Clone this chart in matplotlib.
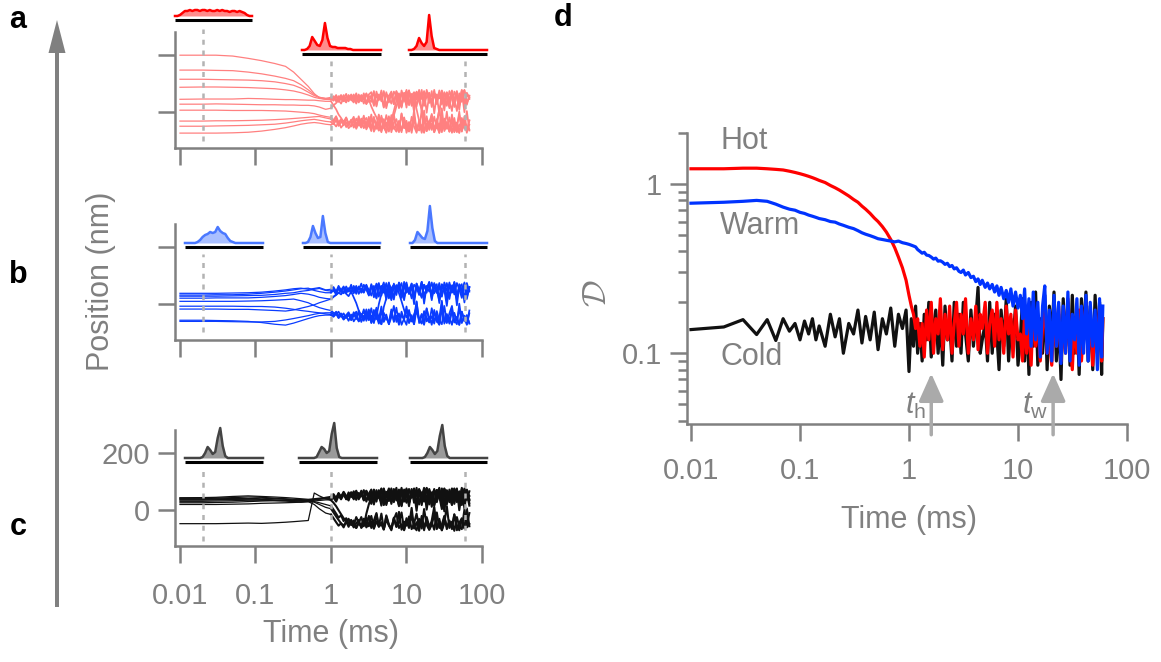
import matplotlib
matplotlib.use('Agg')
import matplotlib.pyplot as plt
from matplotlib.patches import FancyArrow
from matplotlib.ticker import LogLocator, NullFormatter, NullLocator

plt.rcParams['font.family'] = ['Liberation Sans', 'DejaVu Sans']
plt.rcParams['mathtext.fontset'] = 'custom'
plt.rcParams['mathtext.rm'] = 'Liberation Sans'
plt.rcParams['mathtext.it'] = 'Liberation Sans:italic'

W, H = 1161, 662
GRAY = '#808080'

# ---------------- data: trajectories (panels a-c) ----------------
t_traj = [0.01, 0.02, 0.03, 0.05, 0.08, 0.12, 0.18, 0.25, 0.32, 0.4, 0.5, 0.6, 0.7, 0.85,
          1.0, 1.08, 1.17, 1.26, 1.36, 1.47, 1.59, 1.71, 1.85, 2.0,
          2.16, 2.33, 2.52, 2.72, 2.94, 3.17, 3.42, 3.7, 4.0, 4.3,
          4.65, 5.0, 5.4, 5.85, 6.3, 6.8, 7.35, 7.95, 8.6, 9.3,
          10, 10.8, 11.7, 12.6, 13.6, 14.7, 15.9, 17.1, 18.5, 20,
          21.6, 23.3, 25.2, 27.2, 29.4, 31.7, 34.2, 37, 40, 43,
          46.5, 50, 54, 58.5, 63, 68]
n_smooth = 14   # points before the noisy (hopping) part starts

traj_hot = [
    [199, 199, 199, 196, 188, 180, 170, 160, 140, 115, 90, 65, 50, 45,
     44, 52, 38, 56, 42, 60, 36, 54, 46, 62, 34, 58, 40, 66, 30, 57,
     48, 70, 24, 62, 38, 74, 20, 58, 66, 28, 72, 40, 16, 64, 52, 76,
     22, 60, 44, 78, 2, 56, 70, 32, 74, -4, 62, 48, 76, 26, 68, 40,
     4, 72, 54, 8, 76, 36, 64, 46],
    [147, 147, 146, 145, 140, 134, 126, 118, 110, 96, 78, 62, 52, 48,
     48, 40, 56, 36, 58, 44, 34, 60, 42, 54, 30, 62, 38, 50, 28, 44,
     20, 0, -18, -40, -26, -55, -10, -48, -30, 5, 40, 66, 22, 58, 74, 30,
     64, 16, 70, 44, 78, 24, 56, 68, 18, 62, 36, 76, 28, 70, 50, 14,
     66, 40, 74, 22, 60, 78, 32, 56],
    [115, 115, 114, 113, 112, 110, 106, 100, 94, 84, 70, 58, 52, 48,
     52, 46, 60, 40, 56, 48, 64, 38, 58, 44, 66, 36, 60, 50, 32, 62,
     70, 26, 58, 42, 76, 18, 64, 50, 30, 72, 56, 14, 68, 40, 78, 24,
     58, 70, 20, 64, 46, 74, -2, 60, 38, 78, 28, 66, 52, 6, 70, 44,
     76, 24, 62, 34, 72, 0, 68, 50],
    [87, 88, 88, 87, 86, 84, 82, 78, 74, 68, 60, 52, 48, 45,
     45, 56, 40, 50, 60, 38, 54, 44, 62, 40, 52, 34, 58, 46, 66, 36,
     60, 22, 72, 44, 56, 16, 70, 34, 64, 28, 74, 48, 20, 66, 40, 76,
     26, 58, 70, 36, 10, -25, -50, -30, -62, -15, -56, -40, -70, -22, -48, -66,
     -8, -58, -36, -72, -20, -52, -64, -30],
    [45, 46, 46, 46, 48, 47, 45, 44, 44, 43, 42, 42, 40, 38,
     38, 24, 10, -8, -20, -34, -18, -42, -28, -50, -22, -38, -54, -30, -46, -16,
     -56, -26, -44, -64, -12, -50, -36, -68, -20, -58, -42, -70, -6, -54, -30, -66,
     -48, -14, -62, -38, -72, -24, -56, -40, -10, -60, -34, 10, 40, 66, 22, 74,
     48, 18, 70, 36, 78, 28, 62, 52],
    [28, 28, 29, 28, 27, 26, 26, 25, 25, 24, 24, 22, 18, 10,
     14, 24, 32, 42, 30, 50, 38, 58, 44, 34, 60, 40, 54, 30, 64, 46,
     36, 74, 20, 60, 48, 70, 14, 56, 72, 38, 62, 18, 76, 46, 26, 68,
     54, 0, 72, 40, 64, 22, 78, 50, 30, 66, 58, -6, 74, 42, 60, 24,
     70, 48, 4, 66, 36, 76, 26, 58],
    [7, 7, 7, 6, 6, 6, 5, 4, 2, 0, -2, -5, -10, -15,
     -18, -28, -14, -36, -24, -42, -20, -46, -32, -16, -50, -26, -40, -12, -54, -30,
     -60, -20, -46, -8, -66, -34, -52, -14, -70, -38, -24, -62, -4, -56, -44, -68,
     -16, -50, -72, -28, -60, 6, -66, -40, -22, -70, -48, 12, -64, -32, -58, -18,
     -72, -36, -54, 2, -68, -26, -62, -44],
    [-31, -31, -30, -30, -29, -28, -26, -24, -22, -20, -18, -16, -15, -20,
     -24, -34, -18, -40, -28, -46, -22, -38, -50, -26, -44, -14, -52, -32, -20, -48,
     -8, -60, -36, -64, -18, -54, -70, -30, -46, -12, 20, 52, 30, 68, 16, 74,
     40, 60, 10, -30, -58, -20, -66, -40, -6, -62, -48, -72, -16, -56, -34, -68,
     -24, -70, -44, -10, -60, -38, -72, -28],
    [-49, -49, -48, -47, -46, -44, -42, -38, -34, -30, -27, -25, -28, -32,
     -34, -42, -28, -48, -36, -30, -52, -40, -26, -54, -38, -46, -22, -56, -34, -44,
     -66, -16, -58, -40, -70, -24, -50, -62, -10, -54, -68, -30, -64, -20, -72, -46,
     -58, 8, -66, -36, -52, -72, -14, -62, -40, -70, -24, -56, 14, -66, -46, -60,
     -20, -68, -50, -72, -30, -58, 4, -64],
    [-73, -73, -73, -72, -70, -66, -60, -54, -48, -42, -38, -36, -38, -42,
     -44, -38, -50, -34, -54, -42, -36, -56, -46, -30, -58, -40, -52, -28, -60, -44,
     -22, -68, -48, -12, -62, -36, -72, -28, -56, -6, -66, -44, -70, -18, -60, -34,
     -72, -26, -54, -64, 10, -70, -40, -58, -16, -64, -36, -72, -28, -60, 2, -68,
     -50, -20, -70, -42, -66, -14, -56, -62],
]

traj_warm = [
    [38, 38, 38, 39, 40, 42, 46, 50, 54, 56, 52, 55, 58, 50,
     52, 60, 44, 64, 48, 40, 62, 46, 68, 38, 58, 50, 72, 42, 60, 34,
     66, 24, 58, 74, 30, 62, 46, 76, 18, 64, 52, 70, 28, 56, 76, 36,
     62, 0, 72, 48, 22, 68, 40, 76, 26, 60, 70, 4, 66, 44, 74, 30,
     56, 72, -4, 64, 38, 76, 24, 60],
    [32, 32, 33, 33, 35, 38, 42, 46, 50, 54, 56, 48, 44, 40,
     40, 48, 34, 54, 42, 58, 36, 28, 44, 24, 4, -22, -40, -26, -48, -18,
     -52, -30, -44, 0, 36, 60, 28, 70, 44, 16, 66, 52, 74, 24, 58, 38,
     72, 20, 62, 46, 78, 30, 54, 68, 14, 70, 40, 60, 26, 76, 48, 18,
     66, 34, 74, 52, 22, 68, 42, 60],
    [28, 28, 28, 29, 30, 31, 34, 38, 40, 45, 48, 52, 55, 48,
     46, 54, 40, 58, 50, 62, 42, 56, 38, 64, 46, 60, 40, 68, 50, 32,
     70, 44, 22, 66, 54, 76, 34, 60, 14, 72, 46, 62, 28, 78, 40, 56,
     20, 68, 58, 32, 74, 2, 64, 44, 76, 38, 60, 22, 70, 50, -6, 66,
     42, 78, 30, 58, 70, 6, 64, 48],
    [21, 21, 22, 22, 22, 24, 27, 30, 34, 38, 35, 30, 24, 20,
     18, 26, 32, 40, 34, 46, 38, 52, 44, 58, 36, 62, 48, 40, 66, 50,
     30, 64, 20, 70, 44, 58, 16, 72, 52, 26, 66, 38, 10, -20, -46, -28,
     -60, -36, -10, -54, -68, -24, -48, -64, -14, -58, -40, -70, -20, -52, -66, -32,
     -6, -62, -44, -72, -26, -56, -38, -68],
    [10, 10, 10, 10, 11, 12, 14, 16, 18, 12, 5, -5, -12, -18,
     -22, -30, -36, -26, -42, -32, -48, -38, -54, -28, -44, -60, -34, -50, -18, -56,
     -40, -66, -22, -52, -8, -62, -44, -70, -26, -58, -12, -68, -38, -54, -72, -20,
     -60, -46, 10, -66, -34, -70, -16, -52, -64, -28, -58, -72, 6, -62, -40, -68,
     -24, -56, -70, 2, -60, -44, -72, -32],
    [-7, -7, -7, -7, -8, -8, -10, -14, -18, -22, -25, -28, -30, -34,
     -36, -42, -30, -48, -38, -52, -44, -32, -56, -40, -26, -60, -46, -18, -58, -34,
     -64, -20, -52, -40, -70, -10, 20, 50, 30, 66, 44, 74, 22, 58, 70, 36,
     62, 16, 72, 48, 26, 68, 54, 78, 20, 64, 40, 74, 30, 60, 12, 70,
     50, 76, 24, 62, 44, 72, 18, 58],
    [-17, -17, -17, -18, -18, -20, -22, -24, -20, -14, -8, -2, 5, 12,
     18, 26, 34, 40, 46, 38, 52, 44, 58, 42, 64, 36, 54, 48, 68, 30,
     60, 46, 72, 26, 64, 40, 74, 20, 56, 68, 32, 76, 44, 14, 62, 50,
     72, 24, 66, 38, 78, 18, 58, 70, 34, 74, 48, 12, 68, 56, 28, 76,
     40, 62, 16, 70, 52, 26, 74, 44],
    [-56, -56, -57, -58, -60, -64, -70, -73, -66, -58, -50, -44, -40, -38,
     -38, -44, -34, -48, -40, -54, -42, -58, -36, -60, -46, -30, -62, -40, -52, -24,
     -66, -44, -12, -58, -70, -30, -50, -64, -18, -62, -40, -72, -26, -54, -8, -66,
     -48, -70, -20, -58, -36, -72, -14, -60, -42, -68, -24, -56, -70, -6, -62, -46,
     -72, -30, -58, -16, -66, -40, -70, -22],
    [-60, -60, -60, -61, -62, -62, -60, -55, -50, -45, -40, -35, -32, -30,
     -30, -36, -26, -40, -32, -46, -38, -28, -48, -34, -52, -22, -44, -58, -30, -50,
     -14, -60, -42, -68, -24, -54, -36, -70, -46, -6, -62, -32, -72, -50, -18, -64,
     -38, -70, 8, -56, -66, -28, -60, -44, -72, -20, -62, -48, 12, -68, -34, -58,
     -16, -64, -50, -72, -26, -60, -40, -66],
]

traj_cold = [
    [43, 44, 45, 48, 50, 48, 46, 44, 42, 40, 38, 40, 42, 44,
     44, 52, 40, 58, 46, 62, 38, 56, 48, 66, 36, 60, 50, 70, 30, 58,
     72, 24, 62, 44, 76, 18, 64, 52, 30, 70, 56, 14, 66, 40, 76, 26,
     60, 72, 20, 64, 46, 78, 2, 62, 36, 74, 28, 68, 54, -4, 70, 44,
     76, 22, 64, 36, 72, 6, 66, 50],
    [40, 40, 42, 44, 46, 45, 42, 40, 38, 37, 36, 38, 40, 42,
     42, 48, 36, 54, 44, 58, 40, 50, 62, 38, 56, 44, 68, 34, 60, 48,
     26, 70, 42, 60, 16, 74, 50, 32, 66, 46, 78, 20, 62, 38, 72, 28,
     54, 76, 14, 68, 42, 60, 24, 74, 48, 18, 70, 58, 32, 76, 40, 62,
     20, 72, 52, 30, 78, 44, 60, 16],
    [35, 35, 36, 38, 40, 42, 40, 38, 36, 35, 34, 30, 26, 20,
     15, 2, -12, -26, -18, -38, -28, -46, -34, -52, -24, -44, -58, -30, -50, -20,
     -62, -36, -10, -56, -42, -66, -18, -50, -64, -28, -58, -6, -68, -40, -54, -22,
     -66, -46, -12, -60, -34, -70, -24, -56, -42, -68, -8, -62, -50, -20, -66, -36,
     -58, -14, -70, -44, -28, -64, -52, -10],
    [31, 31, 32, 33, 35, 36, 34, 33, 32, 33, 34, 36, 38, 40,
     40, 48, 36, 54, 44, 58, 40, 62, 48, 42, 64, 52, 58, 36, 66, 46,
     68, 30, 58, 48, 74, 20, 62, 40, 76, 32, 60, 18, 70, 50, 26, 74,
     44, 64, -2, 72, 56, 30, 78, 38, 62, 22, 70, 48, 4, 74, 58, 28,
     68, 40, 76, 0, 60, 50, 72, 24],
    [26, 26, 27, 28, 30, 32, 33, 32, 30, 28, 30, 32, 34, 36,
     36, 44, 30, 50, 38, 54, 46, 34, 58, 44, 62, 38, 54, 50, 68, 36,
     60, 20, 70, 44, 28, 66, 52, 76, 22, 62, 40, 72, 16, 58, 70, 34,
     74, 26, 56, 66, 18, 72, 44, 60, 12, 68, 52, 78, 30, 60, 20, 72,
     46, 74, 28, 64, 56, 18, 70, 38],
    [20, 20, 20, 21, 22, 24, 25, 26, 27, 28, 30, 20, 5, -10,
     -15, -28, -42, -54, -46, -60, -40, -30, -52, -36, -62, -44, -24, -56, -12, 20,
     46, 62, 30, 70, 40, 56, 22, 68, 48, 74, 34, 60, 14, 72, 52, 26,
     66, 40, 78, 20, 62, 50, 74, 30, 58, 16, 70, 42, 76, 24, 64, 52,
     18, 72, 44, 62, 28, 76, 36, 66],
    [43, 43, 42, 41, 40, 38, 36, 35, 33, 32, 31, 28, 20, 10,
     5, -8, -22, -34, -46, -54, -40, -58, -36, -50, -62, -44, -56, -30, -60, -48,
     -20, -64, -40, -56, -12, -66, -34, -52, -70, -26, -58, -44, -8, -68, -38, -62,
     -18, -56, -70, -30, -64, 4, -52, -68, -36, 12, -62, -48, -70, -24, -58, -40,
     -66, -16, -54, -70, -32, -62, 6, -56],
    [38, 38, 38, 37, 36, 35, 34, 34, 33, 32, 30, 35, 40, 45,
     48, 56, 42, 60, 46, 64, 50, 40, 62, 52, 68, 44, 58, 38, 66, 50,
     22, 72, 46, 64, 34, 76, 18, 60, 56, 28, 70, 44, 78, 30, 62, 14,
     68, 50, 24, 74, 38, 62, 76, 20, 56, 70, 32, 64, 14, 72, 46, 60,
     26, 76, 42, 66, 18, 72, 54, 34],
    [-47, -47, -47, -46, -45, -46, -44, -42, -40, -38, -36, 60, 50, 40,
     35, 26, 14, 0, -14, -28, -38, -52, -44, -60, -46, -34, -62, -50, -26, -56,
     -40, -64, -14, -58, -48, -68, -22, -54, -66, -32, -10, -62, -50, -70, -28, -56,
     8, -64, -42, -72, -20, -60, -36, -68, -52, -14, -66, -30, -70, -46, 14, -62,
     -40, -72, -24, -58, -66, 2, -60, -48],
]

# time points of the three position histograms (dashed lines)
t_snap = [0.02, 1, 60]

# ---------------- data: histograms above each panel ----------------
hist_bins = list(range(-120, 200, 10))
hist_hot = [
    [0, 0, 1, 3, 5, 5, 6, 5, 6, 6, 5, 6, 6, 5, 6, 5, 5, 6, 5, 6, 5, 5, 4, 5, 5, 4, 5, 4, 3, 1, 0, 0],
    [0, 0, 1, 4, 13, 9, 5, 4, 10, 27, 12, 4, 3, 3, 2, 2, 2, 2, 1, 1, 0, 0, 0, 0, 0, 0, 0, 0, 0, 0, 0, 0],
    [0, 0, 1, 4, 12, 7, 4, 8, 35, 14, 2, 1, 0, 0, 0, 0, 0, 0, 0, 0, 0, 0, 0, 0, 0, 0, 0, 0, 0, 0, 0, 0],
]
hist_warm = [
    [0, 0, 0, 0, 0, 1, 3, 6, 8, 9, 11, 10, 11, 16, 12, 10, 9, 5, 2, 1, 0, 0, 0, 0, 0, 0, 0, 0, 0, 0, 0, 0],
    [0, 0, 1, 6, 17, 10, 5, 6, 27, 10, 1, 0, 0, 0, 0, 0, 0, 0, 0, 0, 0, 0, 0, 0, 0, 0, 0, 0, 0, 0, 0, 0],
    [0, 0, 3, 11, 8, 5, 4, 12, 37, 15, 2, 0, 0, 0, 0, 0, 0, 0, 0, 0, 0, 0, 0, 0, 0, 0, 0, 0, 0, 0, 0, 0],
]
hist_cold = [
    [0, 0, 0, 0, 0, 0, 0, 1, 5, 11, 8, 4, 6, 20, 30, 12, 2, 0, 0, 0, 0, 0, 0, 0, 0, 0, 0, 0, 0, 0, 0, 0],
    [0, 0, 0, 0, 0, 0, 0, 1, 6, 11, 9, 5, 7, 24, 35, 10, 1, 0, 0, 0, 0, 0, 0, 0, 0, 0, 0, 0, 0, 0, 0, 0],
    [0, 0, 0, 0, 0, 0, 1, 5, 11, 8, 4, 7, 22, 33, 12, 2, 0, 0, 0, 0, 0, 0, 0, 0, 0, 0, 0, 0, 0, 0, 0, 0],
]

# ---------------- data: panel d ----------------
t_d = [0.01, 0.02, 0.03, 0.04, 0.05, 0.06, 0.07, 0.08, 0.09, 0.10,
       0.11, 0.12, 0.13, 0.14, 0.15, 0.17, 0.19, 0.21, 0.23, 0.25,
       0.28, 0.31, 0.34, 0.37, 0.40, 0.44, 0.48, 0.52, 0.57, 0.62,
       0.68, 0.74, 0.80, 0.87, 0.94, 1.0, 1.05, 1.1, 1.15, 1.2,
       1.26, 1.32, 1.38, 1.45, 1.52, 1.6, 1.68, 1.76, 1.85, 1.94,
       2.04, 2.14, 2.25, 2.36, 2.48, 2.6, 2.73, 2.87, 3.0, 3.15,
       3.3, 3.5, 3.7, 3.9, 4.1, 4.3, 4.5, 4.7, 5.0, 5.25,
       5.5, 5.8, 6.1, 6.4, 6.7, 7.0, 7.4, 7.8, 8.2, 8.6,
       9.0, 9.5, 10, 10.5, 11, 11.5, 12, 12.6, 13.2, 13.8,
       14.5, 15.2, 16, 16.8, 17.6, 18.5, 19.4, 20.4, 21.4, 22.5,
       23.6, 24.8, 26, 27.3, 28.7, 30, 31.5, 33, 34.7, 36.4,
       38.2, 40, 42, 44, 46, 48.5, 51, 53.5, 56, 58.5, 60]
D_hot = [1.23, 1.23, 1.24, 1.24, 1.23, 1.22, 1.21, 1.19, 1.17, 1.15,
         1.13, 1.11, 1.09, 1.07, 1.05, 1.02, 0.98, 0.95, 0.92, 0.89,
         0.85, 0.81, 0.78, 0.74, 0.71, 0.67, 0.63, 0.6, 0.56, 0.52,
         0.47, 0.42, 0.37, 0.32, 0.27, 0.22, 0.19, 0.17, 0.14, 0.16,
         0.11, 0.15, 0.095, 0.18, 0.12, 0.2, 0.1, 0.16, 0.13, 0.21,
         0.105, 0.17, 0.12, 0.19, 0.1, 0.15, 0.2, 0.11, 0.17, 0.13,
         0.21, 0.1, 0.16, 0.12, 0.19, 0.105, 0.17, 0.14, 0.2, 0.1,
         0.15, 0.18, 0.11, 0.2, 0.12, 0.16, 0.1, 0.19, 0.13, 0.17,
         0.095, 0.18, 0.12, 0.13, 0.09, 0.17, 0.1, 0.15, 0.085, 0.19,
         0.11, 0.16, 0.09, 0.14, 0.2, 0.1, 0.12, 0.085, 0.17, 0.11,
         0.19, 0.09, 0.15, 0.1, 0.21, 0.12, 0.08, 0.16, 0.1, 0.18,
         0.09, 0.14, 0.2, 0.1, 0.17, 0.085, 0.15, 0.11, 0.19, 0.09, 0.16]
D_warm = [0.77, 0.78, 0.79, 0.80, 0.79, 0.76, 0.73, 0.71, 0.70, 0.68,
          0.67, 0.655, 0.645, 0.635, 0.625, 0.615, 0.60, 0.595, 0.58, 0.57,
          0.555, 0.545, 0.53, 0.515, 0.505, 0.495, 0.485, 0.475, 0.47, 0.465,
          0.46, 0.455, 0.46, 0.45, 0.445, 0.44, 0.435, 0.43, 0.425, 0.41,
          0.40, 0.39, 0.395, 0.38, 0.378, 0.37, 0.36, 0.365, 0.35, 0.352,
          0.345, 0.335, 0.34, 0.325, 0.33, 0.315, 0.32, 0.305, 0.30, 0.31,
          0.29, 0.30, 0.28, 0.285, 0.265, 0.275, 0.255, 0.27, 0.245, 0.26,
          0.24, 0.255, 0.23, 0.25, 0.22, 0.245, 0.21, 0.235, 0.20, 0.24,
          0.19, 0.23, 0.185, 0.22, 0.16, 0.24, 0.13, 0.21, 0.11, 0.23,
          0.12, 0.2, 0.095, 0.19, 0.25, 0.1, 0.18, 0.09, 0.22, 0.11,
          0.2, 0.087, 0.19, 0.1, 0.23, 0.09, 0.17, 0.12, 0.21, 0.085,
          0.19, 0.1, 0.22, 0.09, 0.2, 0.11, 0.18, 0.08, 0.21, 0.095, 0.19]
D_cold = [0.138, 0.143, 0.158, 0.129, 0.158, 0.119, 0.16, 0.135, 0.15, 0.12,
          0.155, 0.13, 0.16, 0.12, 0.145, 0.11, 0.17, 0.125, 0.16, 0.1,
          0.15, 0.13, 0.18, 0.115, 0.165, 0.12, 0.175, 0.105, 0.16, 0.13,
          0.185, 0.11, 0.17, 0.14, 0.18, 0.078, 0.16, 0.11, 0.19, 0.1,
          0.15, 0.09, 0.17, 0.12, 0.2, 0.095, 0.14, 0.18, 0.1, 0.16,
          0.085, 0.19, 0.12, 0.15, 0.09, 0.2, 0.11, 0.17, 0.1, 0.2,
          0.13, 0.09, 0.18, 0.11, 0.16, 0.245, 0.1, 0.12, 0.15, 0.09,
          0.2, 0.1, 0.17, 0.13, 0.08, 0.18, 0.11, 0.21, 0.09, 0.16,
          0.12, 0.19, 0.085, 0.12, 0.21, 0.09, 0.18, 0.075, 0.2, 0.11,
          0.23, 0.085, 0.16, 0.1, 0.22, 0.08, 0.19, 0.12, 0.23, 0.09,
          0.17, 0.07, 0.21, 0.11, 0.2, 0.085, 0.22, 0.1, 0.18, 0.075,
          0.21, 0.12, 0.23, 0.09, 0.19, 0.08, 0.22, 0.1, 0.2, 0.075, 0.16]
t_h, t_w = 1.6, 21

x_ticks = [0.01, 0.1, 1, 10, 100]
x_ticklabels = ['0.01', '0.1', '1', '10', '100']


def px_box(x0, y0, x1, y1):
    # pixel box (top-left origin) -> figure fraction
    return [x0 / W, 1 - y1 / H, (x1 - x0) / W, (y1 - y0) / H]


def style_axes(ax):
    for s in ['top', 'right']:
        ax.spines[s].set_visible(False)
    for s in ['left', 'bottom']:
        ax.spines[s].set_color(GRAY)
        ax.spines[s].set_linewidth(1.8)
    ax.patch.set_visible(False)
    ax.tick_params(which='major', direction='out', length=12, width=1.8,
                   color=GRAY, labelcolor=GRAY, labelsize=21)


fig = plt.figure(figsize=(W / 100, H / 100), dpi=100)

# overlay in pixel coordinates for labels and the big arrow
ov = fig.add_axes([0, 0, 1, 1])
ov.set_xlim(0, W)
ov.set_ylim(H, 0)
ov.axis('off')
ov.add_patch(FancyArrow(57, 607, 0, -587, width=4, head_width=17, head_length=33,
                        length_includes_head=True, color=GRAY, lw=0))
for lab, x, y in [('a', 18, 20), ('b', 18, 275), ('c', 18, 527), ('d', 563, 18)]:
    ov.text(x, y, lab, fontsize=22, fontweight='bold', ha='center', va='center')
ov.text(101, 281, 'Position (nm)', rotation=90, fontsize=22, color=GRAY, ha='center', va='center')
ov.text(331, 634, 'Time (ms)', fontsize=22, color=GRAY, ha='center', va='center')
ov.text(909, 520, 'Time (ms)', fontsize=22, color=GRAY, ha='center', va='center')
ov.text(597, 293, r'$\mathcal{D}$', rotation=90, fontsize=24, color=GRAY,
        ha='center', va='center', math_fontfamily='cm')

# ---------------- panels a, b, c ----------------
panels = [
    # (y_top, y_bottom, trajectories, line colour, hists, hist line, hist fill, hist boxes, dash tops, dash bottom)
    (32, 148, traj_hot, '#ff8080', hist_hot, '#ff0000', '#ff8c8c',
     [(175, 252, 20), (302, 381, 54), (409, 487, 54)], [290, 178, 178], -100),
    (224, 340, traj_warm, '#0a3cff', hist_warm, '#4a78ff', '#a9bfff',
     [(185, 263, 247), (303, 380, 247), (410, 487, 247)], [175, 175, 175], -98),
    (430, 546, traj_cold, '#111111', hist_cold, '#444444', '#9a9a9a',
     [(185, 263, 462), (299, 377, 462), (410, 487, 462)], [143, 143, 143], -108),
]

for k, (y0, y1, trajs, lc, hists, hc, hf, boxes, dtops, dbot) in enumerate(panels):
    ax = fig.add_axes(px_box(175, y0, 482, y1))
    style_axes(ax)
    ax.set_xscale('log')
    ax.set_xlim(0.00859, 100)
    ax.set_ylim(-125, 280)
    for tr in trajs:
        # thin lines while the trajectories are smooth, heavier where they are dense noise
        ax.plot(t_traj[:n_smooth + 1], tr[:n_smooth + 1], color=lc, lw=0.9)
        ax.plot(t_traj[n_smooth:], tr[n_smooth:], color=lc, lw=1.25 if k < 2 else 1.5)
    for t, top in zip(t_snap, dtops):
        ax.plot([t, t], [dbot, top], color='#b3b3b3', lw=1.8, linestyle=(0, (2, 2.3)),
                zorder=5, clip_on=False)
    ax.set_xticks(x_ticks)
    ax.xaxis.set_minor_locator(NullLocator())
    ax.set_yticks([0, 200])
    if k == 2:
        ax.set_xticklabels(x_ticklabels)
        ax.set_yticklabels(['0', '200'])
        ax.tick_params(axis='x', pad=14)
        ax.tick_params(axis='y', pad=6)
    else:
        ax.set_xticklabels([])
        ax.set_yticklabels([])

    for (hx0, hx1, yb), vals in zip(boxes, hists):
        ih = fig.add_axes(px_box(hx0, yb - 53, hx1, yb + 3))
        ih.set_xlim(hist_bins[0], hist_bins[-1])
        ih.set_ylim(-7, 49)
        ih.axis('off')
        ih.plot([hist_bins[0], hist_bins[-1]], [-4, -4], color='black', lw=2.2,
                solid_capstyle='butt', clip_on=False)
        ih.fill_between(hist_bins, 0, vals, color=hf, lw=0)
        ih.plot(hist_bins, vals, color=hc, lw=1.8, clip_on=False)

# ---------------- panel d ----------------
axd = fig.add_axes(px_box(687, 133, 1127, 424))
style_axes(axd)
axd.set_xscale('log')
axd.set_yscale('log')
axd.set_xlim(0.00919, 100)
axd.set_ylim(0.0382, 2.001)
axd.plot(t_d, D_cold, color='#111111', lw=2.3)
axd.plot(t_d, D_hot, color='#ff0000', lw=2.3)
axd.plot(t_d, D_warm, color='#0033ff', lw=2.3)
axd.set_xticks(x_ticks)
axd.set_xticklabels(x_ticklabels)
axd.xaxis.set_minor_locator(NullLocator())
axd.set_yticks([0.1, 1])
axd.set_yticklabels(['0.1', '1'])
axd.yaxis.set_minor_locator(LogLocator(base=10, subs=[2, 3, 4, 5, 6, 7, 8, 9]))
axd.yaxis.set_minor_formatter(NullFormatter())
axd.tick_params(which='minor', direction='out', length=6.5, width=1.8, color=GRAY)
axd.tick_params(axis='x', pad=12)
axd.tick_params(axis='y', pad=6)

axd.text(0.0185, 1.79, 'Hot', fontsize=22, color=GRAY, ha='left', va='center')
axd.text(0.0185, 0.566, 'Warm', fontsize=22, color=GRAY, ha='left', va='center')
axd.text(0.0185, 0.095, 'Cold', fontsize=22, color=GRAY, ha='left', va='center')

for t, lab in [(t_h, r'$t_\mathrm{h}$'), (t_w, r'$t_\mathrm{w}$')]:
    axd.annotate('', xy=(t, 0.076), xytext=(t, 0.033), annotation_clip=False,
                 arrowprops=dict(arrowstyle='-|>,head_length=0.85,head_width=0.38',
                                 mutation_scale=20, color='#aaaaaa', lw=2.5,
                                 shrinkA=0, shrinkB=0), zorder=6)
    axd.text(t / 1.12, 0.049, lab, fontsize=22, color=GRAY, ha='right', va='center')

fig.savefig('out.png', dpi=100)
